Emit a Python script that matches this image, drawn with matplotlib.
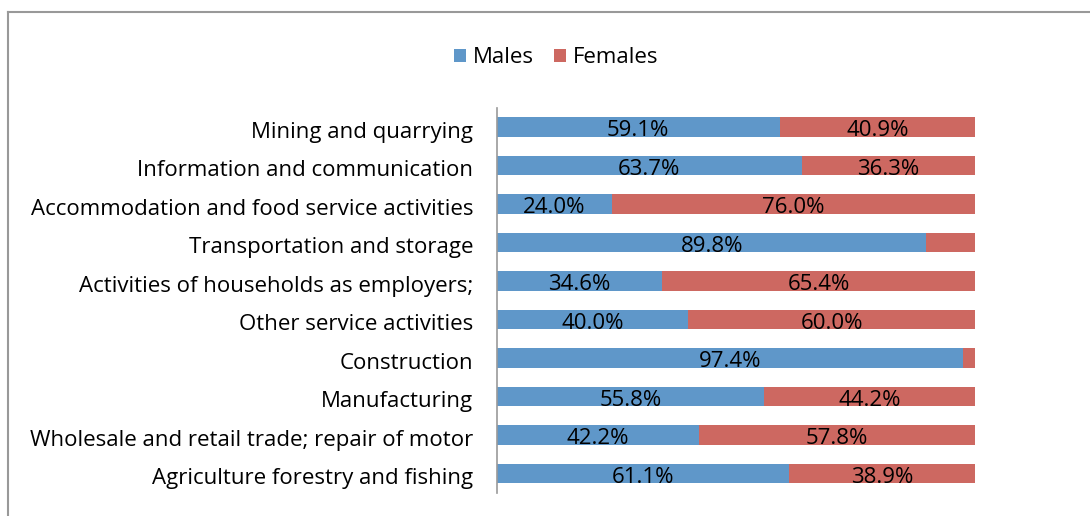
import matplotlib.pyplot as plt
import matplotlib.transforms as mtransforms
from matplotlib.lines import Line2D

categories = [
    "Mining and quarrying",
    "Information and communication",
    "Accommodation and food service activities",
    "Transportation and storage",
    "Activities of households as employers;",
    "Other service activities",
    "Construction",
    "Manufacturing",
    "Wholesale and retail trade; repair of motor",
    "Agriculture forestry and fishing",
]
males = [59.1, 63.7, 24.0, 89.8, 34.6, 40.0, 97.4, 55.8, 42.2, 61.1]
females = [40.9, 36.3, 76.0, 10.2, 65.4, 60.0, 2.6, 44.2, 57.8, 38.9]

BLUE = "#5F97C9"
RED = "#CD6861"
plt.rcParams["font.family"] = ["Open Sans", "DejaVu Sans"]

fig = plt.figure(figsize=(10.9, 5.16), dpi=100)
ax = fig.add_axes([0.456, 0.045, 0.4385, 0.746])

y = list(range(len(categories)))[::-1]
ax.barh(y, males, height=0.5, color=BLUE, label="Males")
ax.barh(y, females, left=males, height=0.5, color=RED, label="Females")

for yi, m, f in zip(y, males, females):
    if m >= 15:
        ax.text(m / 2, yi - 0.1, f"{m:.1f}%", ha="center", va="center", fontsize=16)
    if f >= 15:
        ax.text(m + f / 2, yi - 0.1, f"{f:.1f}%", ha="center", va="center", fontsize=16)

ax.set_xlim(0, 100)
ax.set_ylim(-0.5, len(categories) - 0.5)
ax.set_yticks(y)
ax.set_yticklabels(categories, fontsize=16)
ax.tick_params(axis="y", length=0, pad=17)
ax.set_xticks([])
# nudge category labels slightly down, as in the original
shift = mtransforms.ScaledTranslation(0, -2 / 72, fig.dpi_scale_trans)
for lbl in ax.get_yticklabels():
    lbl.set_transform(lbl.get_transform() + shift)
for side in ("top", "right", "bottom"):
    ax.spines[side].set_visible(False)
ax.spines["left"].set_color("#999999")
ax.spines["left"].set_linewidth(1.2)

fig.legend(loc="center", bbox_to_anchor=(0.51, 0.888), ncol=2, frameon=False,
           fontsize=16, handlelength=0.55, handleheight=0.55, handletextpad=0.3,
           columnspacing=0.9)

# partial chart-area frame (left and top edges)
fig.add_artist(Line2D([0.0075, 0.0075], [0.0, 0.977], color="#999999", lw=1.5))
fig.add_artist(Line2D([0.0075, 1.0], [0.977, 0.977], color="#999999", lw=1.5))

fig.savefig("out.png", dpi=100)
